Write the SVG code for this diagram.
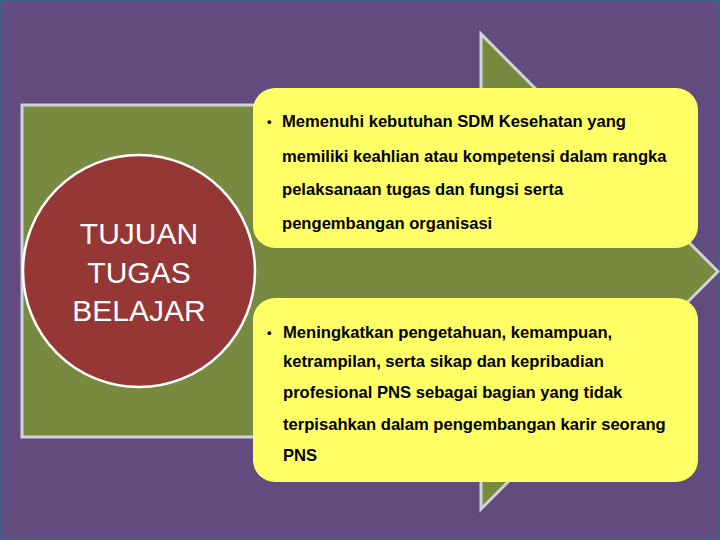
<svg xmlns="http://www.w3.org/2000/svg" width="720" height="540" viewBox="0 0 720 540">
<style>
.bx{fill:#ffff66;}
.t{font-family:"Liberation Sans",Arial,sans-serif;font-weight:bold;font-size:16.6px;fill:#000;}
.b{font-family:"Liberation Sans",Arial,sans-serif;font-weight:bold;font-size:13px;fill:#000;}
.c{font-family:"Liberation Sans",Arial,sans-serif;font-size:30px;fill:#fff;text-anchor:middle;}
</style>
<rect x="0" y="0" width="720" height="540" fill="#3d5f8c"/>
<rect x="2" y="2" width="716" height="536" fill="#614c7d"/>
<g id="arrow">
<path d="M22,105 H481 V34 L718,271.5 L481,509 V437 H22 Z" fill="#788a40" stroke="#d2d2dc" stroke-width="3" stroke-linejoin="miter"/>
</g>
<g id="circle">
<circle cx="139" cy="271" r="116" fill="#953735" stroke="#ffffff" stroke-width="2.5"/>
<text class="c" x="139" y="244">TUJUAN</text>
<text class="c" x="139" y="283">TUGAS</text>
<text class="c" x="139" y="321">BELAJAR</text>
</g>
<g id="box1">
<rect class="bx" x="253" y="88" width="445" height="160" rx="22"/>
<text class="b" x="267" y="126">•</text>
<text class="t" x="282" y="127">Memenuhi kebutuhan SDM Kesehatan yang</text>
<text class="t" x="282" y="162">memiliki keahlian atau kompetensi dalam rangka</text>
<text class="t" x="282" y="195">pelaksanaan tugas dan fungsi serta</text>
<text class="t" x="282" y="229">pengembangan organisasi</text>
</g>
<g id="box2">
<rect class="bx" x="253" y="298" width="445" height="184" rx="22"/>
<text class="b" x="267" y="337">•</text>
<text class="t" x="283" y="338">Meningkatkan pengetahuan, kemampuan,</text>
<text class="t" x="283" y="367">ketrampilan, serta sikap dan kepribadian</text>
<text class="t" x="283" y="398">profesional PNS sebagai bagian yang tidak</text>
<text class="t" x="283" y="430">terpisahkan dalam pengembangan karir seorang</text>
<text class="t" x="283" y="461">PNS</text>
</g>
</svg>
